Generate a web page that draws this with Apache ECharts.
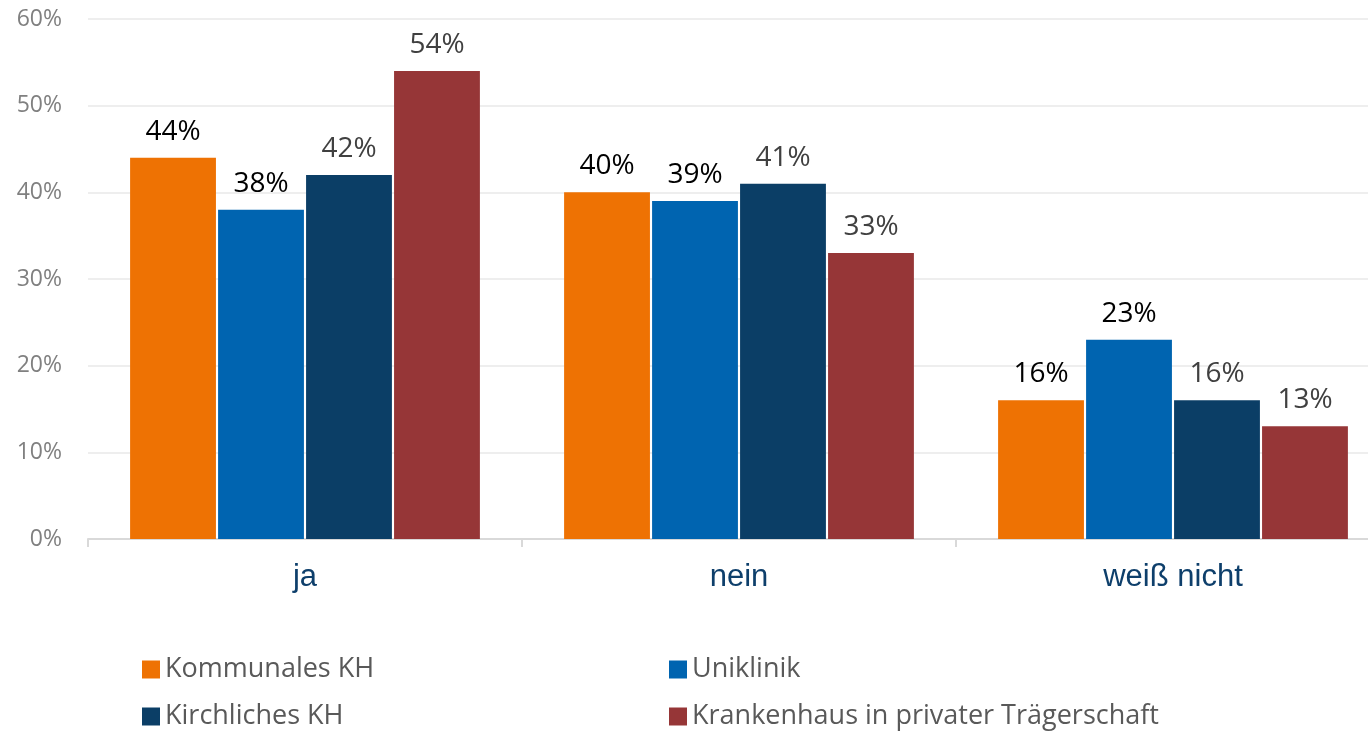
<!DOCTYPE html>
<html lang="de">
<head>
    <meta charset="UTF-8">
    <title>Umfrage</title>
    <script src="https://cdn.jsdelivr.net/npm/echarts@6/dist/echarts.min.js"></script>
    <style>
        html, body { margin: 0; padding: 0; background: #fff; overflow: hidden; }
        /* Diagramm ragt rechts leicht über den sichtbaren Bereich hinaus */
        #chart { width: 1390px; height: 731px; }
    </style>
</head>
<body>
    <div id="chart"></div>
</body>
</html>
<script>
    // Daten
    var categories = ['ja', 'nein', 'weiß nicht'];
    var kommunal = [44, 40, 16];
    var uniklinik = [38, 39, 23];
    var kirchlich = [42, 41, 16];
    var privat = [54, 33, 13];
    var yTicks = [0, 10, 20, 30, 40, 50, 60];

    var names = ['Kommunales KH', 'Uniklinik', 'Kirchliches KH', 'Krankenhaus in privater Trägerschaft'];
    var colors = ['#EE7203', '#0064B0', '#0B3E66', '#963637'];
    var labelColors = ['#000000', '#000000', '#404040', '#404040'];
    var values = [kommunal, uniklinik, kirchlich, privat];

    // Legendenpositionen (2 Spalten x 2 Zeilen)
    var legendPos = [[142, 656], [669, 656], [142, 703], [669, 703]];

    var chart = echarts.init(document.getElementById('chart'));

    var series = names.map(function (n, i) {
        return {
            name: n,
            type: 'bar',
            data: values[i],
            barGap: '2.5%',
            barCategoryGap: '19.4%',
            itemStyle: { color: colors[i] },
            label: {
                show: true,
                position: 'top',
                distance: 12,
                formatter: '{c}%',
                fontFamily: 'Open Sans',
                fontSize: 28,
                color: labelColors[i]
            }
        };
    });

    var legends = names.map(function (n, i) {
        return {
            left: legendPos[i][0],
            top: legendPos[i][1],
            padding: 0,
            itemWidth: 18, itemHeight: 18, itemGap: 11, icon: 'rect',
            textStyle: { fontFamily: 'Open Sans', fontSize: 27, color: '#595959' },
            data: [n]
        };
    });

    chart.setOption({
        animation: false,
        color: colors,
        grid: { left: 88, right: 0, top: 19, bottom: 192, containLabel: false },
        legend: legends,
        xAxis: {
            type: 'category',
            data: categories,
            axisLine: { lineStyle: { color: '#D9D9D9', width: 2 } },
            axisTick: { show: true, length: 8, lineStyle: { color: '#D9D9D9', width: 2 } },
            axisLabel: {
                fontFamily: 'Liberation Sans',
                fontSize: 31,
                color: '#0E3F6B',
                margin: 23
            }
        },
        yAxis: {
            type: 'value',
            min: yTicks[0],
            max: yTicks[yTicks.length - 1],
            interval: 10,
            axisLine: { show: false },
            axisTick: { show: false },
            splitLine: { lineStyle: { color: '#EEEEEE', width: 2 } },
            axisLabel: {
                formatter: '{value}%',
                fontFamily: 'Open Sans',
                fontSize: 23,
                color: '#808080',
                margin: 26
            }
        },
        series: series
    });
    window.onresize = chart.resize;
</script>
